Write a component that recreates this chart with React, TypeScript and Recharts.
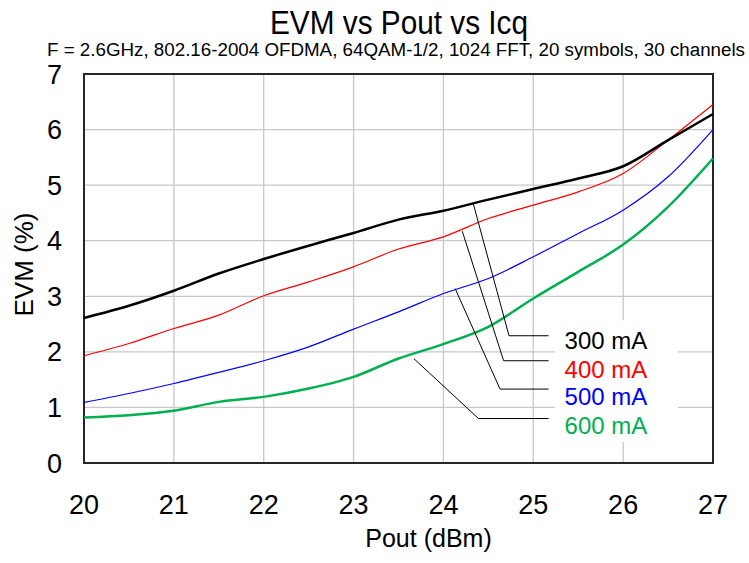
import React from "react";
import {
  LineChart,
  Line,
  XAxis,
  YAxis,
  CartesianGrid,
  ReferenceArea,
  ReferenceLine,
  ReferenceDot,
  Label,
} from "recharts";

// Pout (dBm) sample points
const pout = [20, 20.5, 21, 21.5, 22, 22.5, 23, 23.5, 24, 24.5, 25, 25.5, 26, 26.5, 27];

// EVM (%) per quiescent current
const evm300 = [2.61, 2.83, 3.1, 3.41, 3.67, 3.91, 4.14, 4.38, 4.54, 4.74, 4.93, 5.12, 5.34, 5.81, 6.28];
const evm400 = [1.93, 2.15, 2.42, 2.66, 3.01, 3.26, 3.53, 3.85, 4.07, 4.4, 4.64, 4.88, 5.21, 5.81, 6.45];
const evm500 = [1.09, 1.25, 1.43, 1.63, 1.84, 2.09, 2.41, 2.72, 3.05, 3.32, 3.71, 4.13, 4.55, 5.15, 6.0];
const evm600 = [0.82, 0.86, 0.94, 1.1, 1.19, 1.34, 1.55, 1.88, 2.14, 2.45, 2.96, 3.44, 3.93, 4.61, 5.48];

const xTicks = [20, 21, 22, 23, 24, 25, 26, 27];
const yTicks = [0, 1, 2, 3, 4, 5, 6, 7];

const seriesNames = ["300 mA", "400 mA", "500 mA", "600 mA"];
const seriesColors = ["#000000", "#ff0000", "#0000ff", "#00b050"];

// leader lines of the in-plot legend, in data units: point on curve, then knee
const leaderFrom = [
  [24.33, 4.68],
  [24.21, 4.17],
  [24.13, 3.14],
  [23.67, 1.88],
];
const leaderKnee = [
  [24.73, 2.29],
  [24.67, 1.84],
  [24.63, 1.33],
  [24.39, 0.8],
];
const leaderEndX = 25.17;
const labelY = [2.2, 1.68, 1.19, 0.67];

const data = pout.map((p, i) => ({
  pout: p,
  a300: evm300[i],
  a400: evm400[i],
  a500: evm500[i],
  a600: evm600[i],
}));

const font = "'Liberation Sans', Arial, sans-serif";

export default function App() {
  return (
    <div style={{ position: "absolute", left: 0, top: 0, width: 749, height: 563, background: "#fff", fontFamily: font }}>
      <svg width={749} height={70} style={{ position: "absolute", left: 0, top: 0 }}>
        <text x={399} y={34} textAnchor="middle" fontSize={33} fill="#000" textLength={258} lengthAdjust="spacingAndGlyphs">
          EVM vs Pout vs Icq
        </text>
        <text x={396} y={56} textAnchor="middle" fontSize={18} fill="#000" textLength={698} lengthAdjust="spacingAndGlyphs">
          F = 2.6GHz, 802.16-2004 OFDMA, 64QAM-1/2, 1024 FFT, 20 symbols, 30 channels
        </text>
      </svg>
      <LineChart
        width={749}
        height={563}
        data={data}
        margin={{ top: 74, right: 36, left: 0, bottom: 10 }}
        style={{ position: "absolute", left: 0, top: 0 }}
      >
        <CartesianGrid stroke="#c8c8c8" strokeWidth={1.3} />
        <XAxis
          dataKey="pout"
          type="number"
          domain={[20, 27]}
          ticks={xTicks}
          height={90}
          tickSize={0}
          tickMargin={32}
          axisLine={false}
          tickLine={false}
          tick={{ fill: "#000", fontSize: 27, fontFamily: font }}
        >
          <Label
            content={({ viewBox }: any) => (
              <text x={viewBox.x + viewBox.width / 2 + 30} y={547} textAnchor="middle" fontSize={25} fontFamily={font} fill="#000">
                Pout (dBm)
              </text>
            )}
          />
        </XAxis>
        <YAxis
          type="number"
          domain={[0, 7]}
          ticks={yTicks}
          width={84}
          tickSize={0}
          tickMargin={22}
          axisLine={false}
          tickLine={false}
          tick={{ fill: "#000", fontSize: 27, fontFamily: font }}
        >
          <Label
            content={({ viewBox }: any) => {
              const cy = viewBox.y + viewBox.height / 2 - 4;
              return (
                <text
                  x={33}
                  y={cy}
                  textAnchor="middle"
                  fontSize={26}
                  fontFamily={font}
                  fill="#000"
                  transform={`rotate(-90 33 ${cy})`}
                >
                  EVM (%)
                </text>
              );
            }}
          />
        </YAxis>
        <ReferenceArea x1={25.24} x2={26.61} y1={0.38} y2={2.57} fill="#ffffff" fillOpacity={1} stroke="none" />
        <Line dataKey="a600" type="monotone" stroke={seriesColors[3]} strokeWidth={2.5} dot={false} isAnimationActive={false} />
        <Line dataKey="a500" type="monotone" stroke={seriesColors[2]} strokeWidth={1.2} dot={false} isAnimationActive={false} />
        <Line dataKey="a400" type="monotone" stroke={seriesColors[1]} strokeWidth={1.2} dot={false} isAnimationActive={false} />
        <Line dataKey="a300" type="monotone" stroke={seriesColors[0]} strokeWidth={2.5} dot={false} isAnimationActive={false} />
        {leaderFrom.map((f, i) => (
          <ReferenceLine
            key={`lf${i}`}
            segment={[
              { x: f[0], y: f[1] },
              { x: leaderKnee[i][0], y: leaderKnee[i][1] },
            ]}
            stroke="#000"
            strokeWidth={1}
          />
        ))}
        {leaderKnee.map((k, i) => (
          <ReferenceLine
            key={`lk${i}`}
            segment={[
              { x: k[0], y: k[1] },
              { x: leaderEndX, y: k[1] },
            ]}
            stroke="#000"
            strokeWidth={1}
          />
        ))}
        {seriesNames.map((name, i) => (
          <ReferenceDot
            key={name}
            x={leaderEndX}
            y={labelY[i]}
            r={0}
            fill="none"
            stroke="none"
            label={{ value: name, position: "right", offset: 16, fill: seriesColors[i], fontSize: 24, fontFamily: font }}
          />
        ))}
        <ReferenceArea x1={20} x2={27} y1={0} y2={7} fill="none" stroke="#262626" strokeWidth={2} />
      </LineChart>
    </div>
  );
}
